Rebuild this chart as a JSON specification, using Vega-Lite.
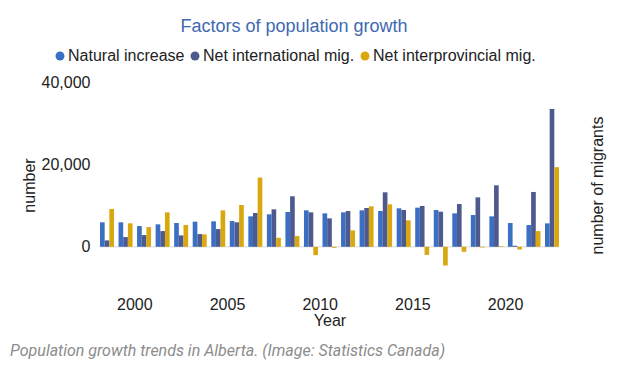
{
  "$schema": "https://vega.github.io/schema/vega-lite/v6.json",
  "width": 459,
  "height": 206,
  "autosize": {"type": "none"},
  "padding": {"left": 100, "top": 82, "right": 69, "bottom": 88},
  "background": "white",
  "config": {
    "font": "Liberation Sans",
    "view": {"stroke": null},
    "axis": {"gridColor": "#e6e6e6", "gridWidth": 1.5, "labelFont": "Liberation Sans", "titleFont": "Liberation Sans"},
    "legend": {"labelFont": "Liberation Sans", "titleFont": "Liberation Sans"}
  },
  "title": {
    "text": "Population growth trends in Alberta. (Image: Statistics Canada)",
    "orient": "bottom",
    "anchor": "start",
    "frame": "bounds",
    "font": "Roboto",
    "fontStyle": "italic",
    "fontWeight": "normal",
    "fontSize": 16,
    "color": "#8c8c8c",
    "offset": 15,
    "dx": -11
  },
  "data": {"values": [
    {"year": 1998, "series": "Natural increase", "value": 5940},
    {"year": 1998, "series": "Net international mig.", "value": 1550},
    {"year": 1998, "series": "Net interprovincial mig.", "value": 9170},
    {"year": 1999, "series": "Natural increase", "value": 5940},
    {"year": 1999, "series": "Net international mig.", "value": 2360},
    {"year": 1999, "series": "Net interprovincial mig.", "value": 5690},
    {"year": 2000, "series": "Natural increase", "value": 5040},
    {"year": 2000, "series": "Net international mig.", "value": 2850},
    {"year": 2000, "series": "Net interprovincial mig.", "value": 4790},
    {"year": 2001, "series": "Natural increase", "value": 5450},
    {"year": 2001, "series": "Net international mig.", "value": 3820},
    {"year": 2001, "series": "Net interprovincial mig.", "value": 8360},
    {"year": 2002, "series": "Natural increase", "value": 5770},
    {"year": 2002, "series": "Net international mig.", "value": 2770},
    {"year": 2002, "series": "Net interprovincial mig.", "value": 5280},
    {"year": 2003, "series": "Natural increase", "value": 6100},
    {"year": 2003, "series": "Net international mig.", "value": 3090},
    {"year": 2003, "series": "Net interprovincial mig.", "value": 3010},
    {"year": 2004, "series": "Natural increase", "value": 6180},
    {"year": 2004, "series": "Net international mig.", "value": 4300},
    {"year": 2004, "series": "Net interprovincial mig.", "value": 8850},
    {"year": 2005, "series": "Natural increase", "value": 6260},
    {"year": 2005, "series": "Net international mig.", "value": 5940},
    {"year": 2005, "series": "Net interprovincial mig.", "value": 10150},
    {"year": 2006, "series": "Natural increase", "value": 7390},
    {"year": 2006, "series": "Net international mig.", "value": 8200},
    {"year": 2006, "series": "Net interprovincial mig.", "value": 16790},
    {"year": 2007, "series": "Natural increase", "value": 7880},
    {"year": 2007, "series": "Net international mig.", "value": 9100},
    {"year": 2007, "series": "Net interprovincial mig.", "value": 2190},
    {"year": 2008, "series": "Natural increase", "value": 8440},
    {"year": 2008, "series": "Net international mig.", "value": 12260},
    {"year": 2008, "series": "Net interprovincial mig.", "value": 2600},
    {"year": 2009, "series": "Natural increase", "value": 8850},
    {"year": 2009, "series": "Net international mig.", "value": 8360},
    {"year": 2009, "series": "Net interprovincial mig.", "value": -2020},
    {"year": 2010, "series": "Natural increase", "value": 8120},
    {"year": 2010, "series": "Net international mig.", "value": 6900},
    {"year": 2010, "series": "Net interprovincial mig.", "value": -240},
    {"year": 2011, "series": "Natural increase", "value": 8360},
    {"year": 2011, "series": "Net international mig.", "value": 8680},
    {"year": 2011, "series": "Net interprovincial mig.", "value": 3990},
    {"year": 2012, "series": "Natural increase", "value": 8850},
    {"year": 2012, "series": "Net international mig.", "value": 9420},
    {"year": 2012, "series": "Net interprovincial mig.", "value": 9820},
    {"year": 2013, "series": "Natural increase", "value": 8690},
    {"year": 2013, "series": "Net international mig.", "value": 13230},
    {"year": 2013, "series": "Net interprovincial mig.", "value": 10310},
    {"year": 2014, "series": "Natural increase", "value": 9340},
    {"year": 2014, "series": "Net international mig.", "value": 8930},
    {"year": 2014, "series": "Net interprovincial mig.", "value": 6420},
    {"year": 2015, "series": "Natural increase", "value": 9500},
    {"year": 2015, "series": "Net international mig.", "value": 9900},
    {"year": 2015, "series": "Net interprovincial mig.", "value": -1950},
    {"year": 2016, "series": "Natural increase", "value": 8930},
    {"year": 2016, "series": "Net international mig.", "value": 8520},
    {"year": 2016, "series": "Net interprovincial mig.", "value": -4530},
    {"year": 2017, "series": "Natural increase", "value": 8120},
    {"year": 2017, "series": "Net international mig.", "value": 10390},
    {"year": 2017, "series": "Net interprovincial mig.", "value": -1210},
    {"year": 2018, "series": "Natural increase", "value": 7710},
    {"year": 2018, "series": "Net international mig.", "value": 12010},
    {"year": 2018, "series": "Net interprovincial mig.", "value": -160},
    {"year": 2019, "series": "Natural increase", "value": 7390},
    {"year": 2019, "series": "Net international mig.", "value": 14930},
    {"year": 2019, "series": "Net interprovincial mig.", "value": 170},
    {"year": 2020, "series": "Natural increase", "value": 5770},
    {"year": 2020, "series": "Net international mig.", "value": 250},
    {"year": 2020, "series": "Net interprovincial mig.", "value": -650},
    {"year": 2021, "series": "Natural increase", "value": 5280},
    {"year": 2021, "series": "Net international mig.", "value": 13310},
    {"year": 2021, "series": "Net interprovincial mig.", "value": 3820},
    {"year": 2022, "series": "Natural increase", "value": 5690},
    {"year": 2022, "series": "Net international mig.", "value": 33430},
    {"year": 2022, "series": "Net interprovincial mig.", "value": 19320}
  ]},
  "layer": [
    {
      "data": {"values": [{"zero": 0}]},
      "mark": {"type": "rule", "color": "#e6e6e6", "strokeWidth": 1.5},
      "encoding": {
        "y": {
          "field": "zero",
          "type": "quantitative",
          "axis": {
            "orient": "right",
            "labels": false,
            "ticks": false,
            "domain": false,
            "grid": false,
            "title": "number of migrants",
            "titleAngle": 270,
            "titleFontSize": 16,
            "titleFontWeight": "normal",
            "titleColor": "#222",
            "titlePadding": 46
          }
        }
      }
    },
    {
      "mark": {"type": "bar"},
      "encoding": {
        "x": {
          "field": "year",
          "type": "ordinal",
          "scale": {"paddingInner": 0.245, "paddingOuter": 0},
          "axis": {
            "values": [2000, 2005, 2010, 2015, 2020],
            "labelAngle": 0,
            "labelOffset": -9.3,
            "ticks": false,
            "domain": false,
            "grid": false,
            "title": "Year",
            "labelFontSize": 16,
            "titleFontSize": 16,
            "titleFontWeight": "normal",
            "labelPadding": 8,
            "titlePadding": 0,
            "labelColor": "#222",
            "titleColor": "#222"
          }
        },
        "xOffset": {
          "field": "series",
          "type": "nominal",
          "scale": {"paddingInner": 0, "paddingOuter": 0}
        },
        "y": {
          "field": "value",
          "type": "quantitative",
          "scale": {"domain": [-10000, 40000], "nice": false},
          "axis": {
            "values": [0, 20000, 40000],
            "labelExpr": "format(datum.value, ',')",
            "ticks": false,
            "domain": false,
            "title": "number",
            "labelFontSize": 16,
            "titleFontSize": 16,
            "titleFontWeight": "normal",
            "labelPadding": 10,
            "titlePadding": 4,
            "labelColor": "#222",
            "titleColor": "#222"
          }
        },
        "color": {
          "field": "series",
          "type": "nominal",
          "scale": {
            "domain": ["Natural increase", "Net international mig.", "Net interprovincial mig."],
            "range": ["#3A6FC3", "#4E5A8E", "#D9A80E"]
          },
          "legend": {
            "title": "Factors of population growth",
            "orient": "none",
            "legendX": -48,
            "legendY": -64,
            "padding": 0,
            "direction": "horizontal",
            "titleOrient": "top",
            "titleAnchor": "middle",
            "titleFontSize": 18,
            "titleFontWeight": "normal",
            "titleColor": "#4069B1",
            "titlePadding": 12,
            "titleLimit": 500,
            "labelLimit": 400,
            "labelFontSize": 16,
            "labelColor": "#222",
            "symbolType": "circle",
            "symbolSize": 80,
            "symbolStrokeWidth": 0,
            "columnPadding": 2,
            "labelOffset": 0
          }
        }
      }
    }
  ],
  "resolve": {"axis": {"y": "independent"}}
}
